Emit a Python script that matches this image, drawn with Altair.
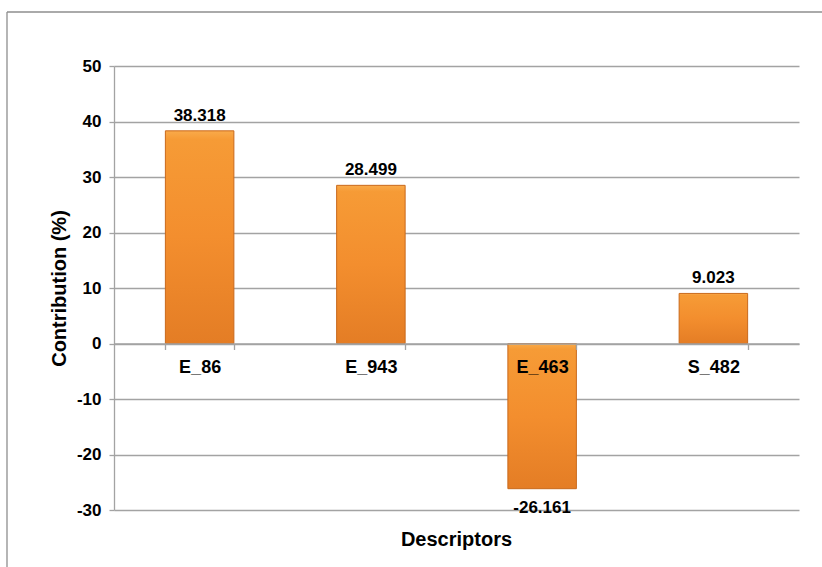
import altair as alt
import pandas as pd

categories = ["E_86", "E_943", "E_463", "S_482"]
values = [38.318, 28.499, -26.161, 9.023]
labels = ["38.318", "28.499", "-26.161", "9.023"]
y_ticks = [-30, -20, -10, 0, 10, 20, 30, 40, 50]
y_domain = [-30, 50]
x_title = ["Descriptors"]

df = pd.DataFrame({"Descriptor": categories, "Contribution": values, "Label": labels})

W, H = 685, 444
FONT = "Liberation Sans"
GRID = "#A3A3A3"
zero_offset = -H * (0 - y_domain[0]) / (y_domain[1] - y_domain[0])

x_enc = alt.X(
    "Descriptor:N",
    sort=categories,
    scale=alt.Scale(paddingInner=0.6, paddingOuter=0.3),
    axis=alt.Axis(
        title=None,
        orient="bottom",
        offset=zero_offset,
        labelAngle=0,
        labelFont=FONT,
        labelFontSize=18,
        labelFontWeight="bold",
        labelColor="#000000",
        labelPadding=9,
        tickBand="extent",
        tickSize=6,
        tickColor=GRID,
        tickWidth=1.3,
        domainColor=GRID,
        domainWidth=1.3,
        grid=False,
        zindex=1,
    ),
)

y_enc = alt.Y(
    "Contribution:Q",
    scale=alt.Scale(domain=y_domain, nice=False, zero=False),
    axis=alt.Axis(
        values=y_ticks,
        labelExpr="'' + datum.value",
        title="Contribution (%)",
        titleFont=FONT,
        titleFontSize=20,
        titleFontWeight="bold",
        titleColor="#000000",
        titlePadding=7,
        labelFont=FONT,
        labelFontSize=17,
        labelFontWeight="bold",
        labelColor="#000000",
        labelPadding=8,
        tickSize=5,
        tickColor=GRID,
        tickWidth=1.3,
        domainColor=GRID,
        domainWidth=1.3,
        gridColor=GRID,
        gridWidth=1.3,
        zindex=0,
    ),
)

gradient = alt.Gradient(
    gradient="linear",
    stops=[
        alt.GradientStop(color="#F9AA4A", offset=0),
        alt.GradientStop(color="#F69B36", offset=0.04),
        alt.GradientStop(color="#F38E2E", offset=0.5),
        alt.GradientStop(color="#E47D25", offset=1),
    ],
    x1=0, x2=0, y1=0, y2=1,
)

bars = alt.Chart(df).mark_bar(
    fill=gradient, stroke="#C9691C", strokeWidth=1
).encode(x=x_enc, y=y_enc)

text_base = alt.Chart(df).encode(
    x=alt.X("Descriptor:N", sort=categories),
    y=alt.Y("Contribution:Q"),
    text="Label:N",
)
pos_text = text_base.transform_filter("datum.Contribution >= 0").mark_text(
    font=FONT, fontSize=17, fontWeight="bold", color="#000000",
    baseline="alphabetic", dy=-10,
)
neg_text = text_base.transform_filter("datum.Contribution < 0").mark_text(
    font=FONT, fontSize=17, fontWeight="bold", color="#000000",
    baseline="alphabetic", dy=24,
)

title_df = pd.DataFrame({"t": x_title})
x_title_mark = alt.Chart(title_df).mark_text(
    font=FONT, fontSize=20, fontWeight="bold", color="#000000",
    baseline="middle", align="center",
).encode(x=alt.value(W / 2), y=alt.value(H + 30), text="t:N")

frame_df = pd.DataFrame({"f": [0]})
frame_top = alt.Chart(frame_df).mark_rule(color="#8E8E8E", strokeWidth=1.3).encode(
    x=alt.value(-107), x2=alt.value(720), y=alt.value(-54)
)
frame_left = alt.Chart(frame_df).mark_rule(color="#8E8E8E", strokeWidth=1.3).encode(
    x=alt.value(-107), y=alt.value(-54), y2=alt.value(520)
)

chart = alt.layer(bars, pos_text, neg_text, x_title_mark, frame_top, frame_left).properties(
    width=W,
    height=H,
    autosize=alt.AutoSizeParams(type="none"),
    padding={"left": 114, "top": 66, "right": 23, "bottom": 57},
    background="white",
).configure_view(stroke=None)

chart.save("out.html", embed_options={"renderer": "svg", "actions": False})
